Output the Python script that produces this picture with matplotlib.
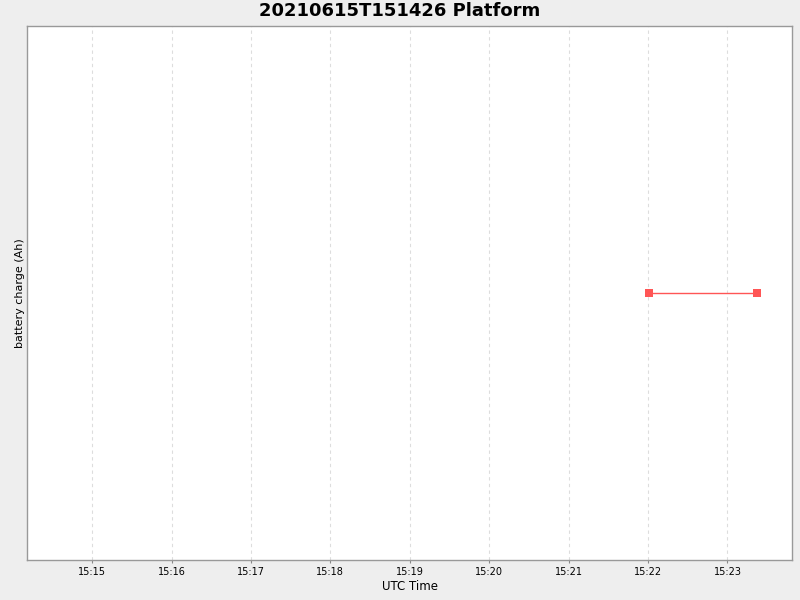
import matplotlib
matplotlib.use("Agg")
import matplotlib.pyplot as plt
import matplotlib.dates as mdates
from datetime import datetime

# data
times = ["2021-06-15 15:22:01", "2021-06-15 15:23:22"]
charge = [0.0, 0.0]
x_start = "2021-06-15 15:14:11"
x_end = "2021-06-15 15:23:49"

t = [datetime.strptime(s, "%Y-%m-%d %H:%M:%S") for s in times]

fig = plt.figure(figsize=(8, 6), dpi=100, facecolor="#EEEEEE")
ax = fig.add_axes([0.0341, 0.0667, 0.9563, 0.89])
ax.set_facecolor("white")

ax.plot(t, charge, color="#FF5555", lw=1.0, marker="s", markersize=5.5,
        markeredgewidth=0, zorder=3)

ax.set_xlim(datetime.strptime(x_start, "%Y-%m-%d %H:%M:%S"),
            datetime.strptime(x_end, "%Y-%m-%d %H:%M:%S"))
ax.set_ylim(-1, 1)

ax.xaxis.set_major_locator(mdates.MinuteLocator())
ax.xaxis.set_major_formatter(mdates.DateFormatter("%H:%M"))
ax.set_yticks([])
ax.tick_params(axis="x", labelsize=7, length=2, color="#888888", pad=3)

ax.grid(True, axis="x", color="#DDDDDD", linestyle=(0, (3, 3)), lw=0.8)
for s in ax.spines.values():
    s.set_color("#999999")
    s.set_linewidth(1)

ax.set_xlabel("UTC Time", fontsize=8.5, labelpad=2)
ax.set_ylabel("battery charge (Ah)", fontsize=8, labelpad=2)
fig.suptitle("20210615T151426 Platform", fontsize=13, fontweight="bold", y=0.997)

fig.savefig("out.png", dpi=100, facecolor=fig.get_facecolor())
